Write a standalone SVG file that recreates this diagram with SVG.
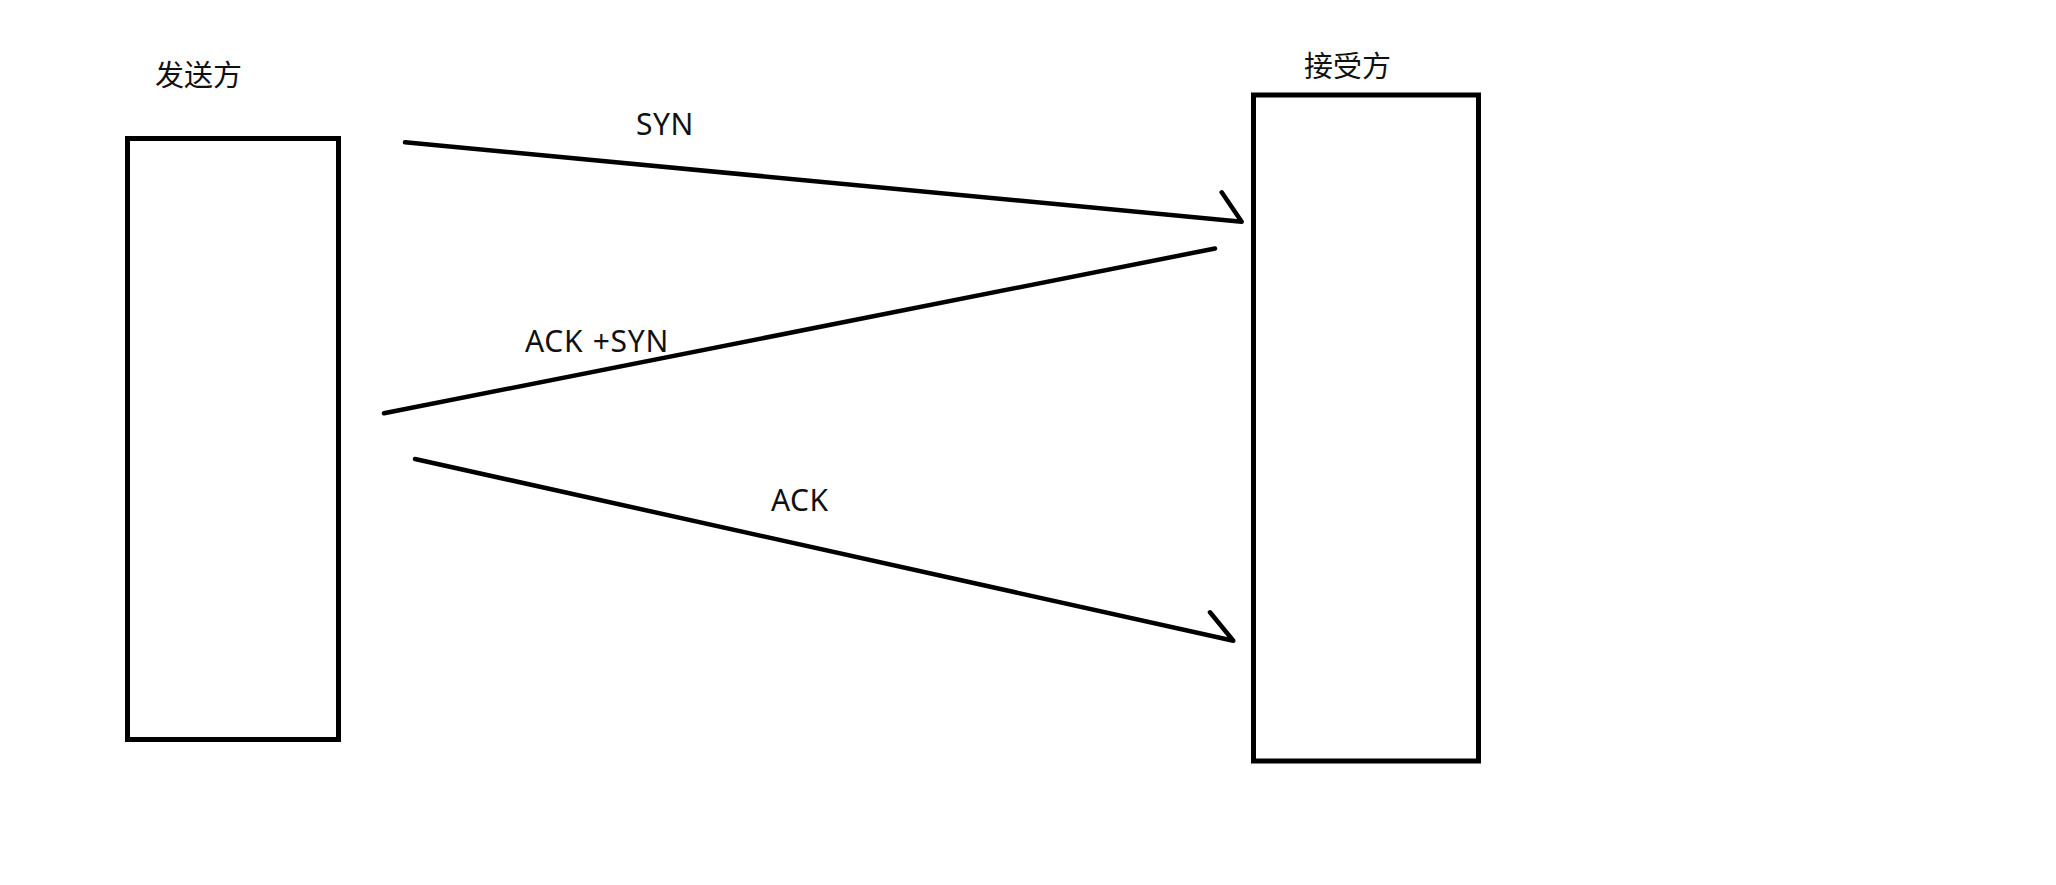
<svg xmlns="http://www.w3.org/2000/svg" width="2056" height="885" viewBox="0 0 2056 885">
<style>
.box{fill:none;stroke:#000;stroke-width:5}
.ln{fill:none;stroke:#000;stroke-width:4.5;stroke-linecap:round;stroke-linejoin:round}
.cjk{font-family:"Noto Sans CJK SC","Noto Sans",sans-serif;font-size:29px;fill:#111}
.lbl{font-family:"Noto Sans","Open Sans",sans-serif;font-size:30px;fill:#111}
</style>
<rect width="2056" height="885" fill="#fff"/>
<g id="sender">
<rect class="box" x="127.5" y="138.5" width="211" height="601"/>
<text class="cjk" x="155" y="86">发送方</text>
</g>
<g id="receiver">
<rect class="box" x="1253.5" y="95" width="225" height="666"/>
<text class="cjk" x="1304" y="77">接受方</text>
</g>
<g id="connectors">
<polyline class="ln" points="405,142.3 1241.7,221.7 1221.7,192.3"/>
<line class="ln" x1="1215" y1="248.5" x2="384" y2="413.3"/>
<polyline class="ln" points="415,459 1233.3,640.7 1210,612.3"/>
<text class="lbl" x="636" y="135" letter-spacing="0.5">SYN</text>
<text class="lbl" x="525" y="352" letter-spacing="0.7" word-spacing="1">ACK +SYN</text>
<text class="lbl" x="771" y="511" letter-spacing="0.5">ACK</text>
</g>
</svg>
